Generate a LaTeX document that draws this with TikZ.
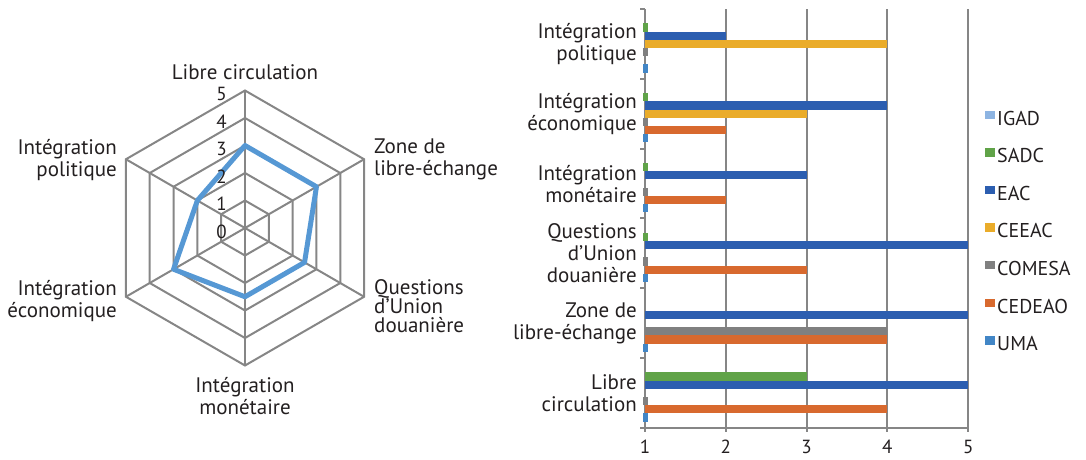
\documentclass[tikz,border=0pt]{standalone}
\usepackage{fontspec}
\setmainfont{PT Sans}
\usepackage{xcolor}
\usepackage{tikz}
\definecolor{igad}{RGB}{141,180,226}
\definecolor{sadc}{RGB}{96,163,72}
\definecolor{eac}{RGB}{44,94,176}
\definecolor{ceeac}{RGB}{234,172,42}
\definecolor{comesa}{RGB}{128,128,128}
\definecolor{cedeao}{RGB}{216,105,46}
\definecolor{uma}{RGB}{66,134,198}
\definecolor{radar}{RGB}{86,152,212}
\definecolor{grille}{RGB}{134,134,134}
\definecolor{texte}{RGB}{35,31,32}

\begin{document}
\begin{tikzpicture}[x=1pt,y=-1pt,text=texte]
	\tikzstyle{grille}=[draw=grille,line width=2pt]
	\tikzstyle{serie}=[draw=radar,line width=5pt,line join=round]
	\tikzstyle{etiquette}=[font=\fontsize{21}{22}\selectfont,inner sep=0pt]
	\tikzstyle{graduation}=[font=\fontsize{19}{20}\selectfont,inner sep=0pt]
	\tikzstyle{legende}=[font=\fontsize{20}{22}\selectfont,inner sep=0pt,anchor=west]
	\useasboundingbox (0,0) rectangle (1086,459);

	% radar
	\begin{scope}[shift={(245,228)},y=1pt]
		\foreach \k in {1,...,5}
			\draw[grille] (90:\k*27.5) -- (30:\k*27.5) -- (-30:\k*27.5) -- (-90:\k*27.5) -- (210:\k*27.5) -- (150:\k*27.5) -- cycle;
		\foreach \a in {90,30,-30,-90,210,150}
			\draw[grille] (0,0) -- (\a:137.5);
		\draw[serie] (90:3*27.5) -- (30:3*27.5) -- (-30:2.5*27.5) -- (-90:2.5*27.5) -- (210:3*27.5) -- (150:2*27.5) -- cycle;
		\foreach \k in {0,...,5}
			\node[graduation,anchor=east] (r\k) at (-18,{\k*27.5-3.5}) {\k};
	\end{scope}
	\node[etiquette] (libre) at (245,72) {Libre circulation};
	\node[etiquette,anchor=west,align=left] (zone) at (374,159) {Zone de\\libre-échange};
	\node[etiquette,anchor=west,align=left,font=\fontsize{21}{19}\selectfont] (questions) at (374,306) {Questions\\d’Union\\douanière};
	\node[etiquette,align=center] (monetaire) at (245,396) {Intégration\\monétaire};
	\node[etiquette,anchor=east,align=right] (economique) at (117,301) {Intégration\\économique};
	\node[etiquette,anchor=east,align=right] (politique) at (117,160) {Intégration\\politique};

	% barres
	\foreach \v in {2,...,5}
		\draw[grille] ({645+(\v-1)*80.8},9) -- ({645+(\v-1)*80.8},432);
	\draw[grille] (645,9) -- (645,432);
	\draw[grille] (645,428) -- (968.2,428);
	\foreach \i in {0,...,6}
		\draw[grille] (640,{9+\i*69.8}) -- (645,{9+\i*69.8});
	\foreach \col/\j/\vals in {igad/0/{0,0,0,0,0,0},sadc/1/{1,1,1,1,0,3},eac/2/{2,4,3,5,5,5},ceeac/3/{4,3,0,0,0,0},comesa/4/{1,1,1,1,4,1},cedeao/5/{0,2,2,3,4,4},uma/6/{1,1,1,1,1,1}}
		\foreach \v [count=\i from 0] in \vals {
			\ifnum\v>0
				\pgfmathsetmacro\ya{9+69.8*(\i+0.5)-3.5*8.2+\j*8.2}
				\ifnum\v=1
					\fill[\col] (643,\ya) rectangle (647.5,\ya+8.2);
				\else
					\fill[\col] (645,\ya) rectangle ({645+(\v-1)*80.8},\ya+8.2);
				\fi
			\fi
		};
	\foreach \v in {1,...,5}
		\node[graduation] (x\v) at ({645+(\v-1)*80.8},447) {\v};
	\node[etiquette,anchor=east,align=right] (b-politique) at (637,44) {Intégration\\politique};
	\node[etiquette,anchor=east,align=right] (b-economique) at (637,114) {Intégration\\économique};
	\node[etiquette,anchor=east,align=right] (b-monetaire) at (637,184) {Intégration\\monétaire};
	\node[etiquette,anchor=east,align=right] (b-questions) at (637,253) {Questions\\d’Union\\douanière};
	\node[etiquette,anchor=east,align=right] (b-zone) at (637,323) {Zone de\\libre-échange};
	\node[etiquette,anchor=east,align=right] (b-libre) at (637,393) {Libre\\circulation};

	% legende
	\foreach \col/\nom [count=\i from 0] in {igad/IGAD,sadc/SADC,eac/EAC,ceeac/CEEAC,comesa/COMESA,cedeao/CEDEAO,uma/UMA} {
		\fill[\col] (985,{110.5+\i*37.6}) rectangle (995,{119+\i*37.6});
		\node[legende] (l-\col) at (997,{118+\i*37.6}) {\nom};
	}
\end{tikzpicture}
\end{document}
